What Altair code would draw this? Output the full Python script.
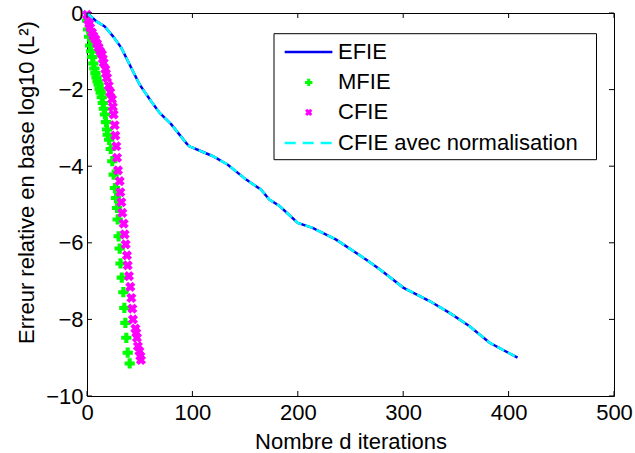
import altair as alt
import pandas as pd

# ---- data ----
efie_x = [0, 9, 16.8, 24.7, 32.6, 43.6, 50, 61, 69, 80, 94, 97, 105, 119.5, 133.6, 151, 165, 173, 182.7,
          200, 214, 236, 265, 278, 300, 325, 344, 363, 382, 408.5]
efie_y = [0, -0.22, -0.35, -0.61, -0.91, -1.52, -1.87, -2.31, -2.61, -2.91, -3.39, -3.48, -3.57, -3.74, -3.96,
          -4.35, -4.61, -4.87, -5.04, -5.48, -5.61, -5.91, -6.44, -6.70, -7.17, -7.52, -7.83, -8.18, -8.61, -9.0]

norm_x = [0, 9, 16.8, 24.7, 32.6, 43.6, 50, 61, 69, 80, 94, 97, 105, 119.5, 133.6, 151, 165, 173, 182.7,
          200, 214, 236, 265, 278, 300, 325, 344, 363, 382, 408.5]
norm_y = [0, -0.22, -0.35, -0.61, -0.91, -1.52, -1.87, -2.31, -2.61, -2.91, -3.39, -3.48, -3.57, -3.74, -3.96,
          -4.35, -4.61, -4.87, -5.04, -5.48, -5.61, -5.91, -6.44, -6.70, -7.17, -7.52, -7.83, -8.18, -8.61, -9.0]

mfie_x = [0, 1, 2, 3, 4, 5, 6, 7, 8, 9, 10, 11, 12, 13, 14, 15, 16,
          17, 18, 19, 19.6, 21, 22.5, 24, 25.3, 26.5, 27.5, 28.5, 29.1, 30, 31, 31.8, 33, 34.5, 35.4,
          36.4, 37.3, 38.6, 40.5]
mfie_y = [-0.2, -0.43, -0.62, -0.85, -1.0, -1.15, -1.32, -1.45, -1.57, -1.68, -1.78, -1.87, -1.98, -2.08,
          -2.2, -2.35, -2.5,
          -2.65, -2.85, -3.04, -3.18, -3.31, -3.55, -3.87, -4.22, -4.57, -4.83, -5.09, -5.39, -5.83, -6.15,
          -6.54, -6.91, -7.29, -7.70, -8.09, -8.48, -8.87, -9.15]

cfie_x = [0, 1, 2, 3, 4.7, 6, 8, 9.5, 11, 12.5, 14.2, 15, 15.8, 17.4, 18, 19, 20.6, 22, 23.7, 24.5, 25.3,
          26.3, 26.9, 27.8, 28.5, 29.4, 31, 31.6, 32.6, 33.5, 34.8, 35.7, 36.7, 37.9, 38.6, 39.8, 41.1,
          42.1, 43, 43.6, 45.9, 46.8, 47.4, 48.3, 49.7, 50.6, 51.2]
cfie_y = [-0.05, -0.18, -0.28, -0.38, -0.51, -0.6, -0.69, -0.8, -0.9, -1.0, -1.08, -1.2, -1.3, -1.47, -1.58,
          -1.69, -1.9, -2.07, -2.25, -2.45, -2.65, -2.93, -3.2, -3.48, -3.78, -4.11, -4.39, -4.68, -4.94,
          -5.22, -5.5, -5.78, -6.04, -6.33, -6.59, -6.87, -7.15, -7.44, -7.72, -8.0, -8.24, -8.35, -8.48,
          -8.7, -8.83, -8.96, -9.06]

x_ticks = [0, 100, 200, 300, 400, 500]
y_ticks = [0, -2, -4, -6, -8, -10]
legend_labels = ["EFIE", "MFIE", "CFIE", "CFIE avec normalisation"]

# ---- styling ----
FONT = "Liberation Sans"
FS = 22
W, H = 527, 383
BLUE, GREEN, MAGENTA, CYAN = "#0000f0", "#00ff00", "#ff00ff", "#00ffff"

xs = alt.Scale(domain=[0, 500], nice=False, zero=False)
ys = alt.Scale(domain=[-10, 0], nice=False, zero=False)

x_axis = alt.Axis(values=x_ticks, title="Nombre d iterations", grid=False, domain=False, ticks=False,
                  labelPadding=6, labelFont=FONT, labelFontSize=FS, labelColor="black",
                  titleFont=FONT, titleFontSize=FS, titleFontWeight="normal", titleColor="black",
                  titleY=52, titleBaseline="alphabetic", labelFlush=False)
y_axis = alt.Axis(values=y_ticks, title="Erreur relative en base log10 (L²)", grid=False, domain=False,
                  ticks=False, labelPadding=4, labelFont=FONT, labelFontSize=FS, labelColor="black",
                  titleFont=FONT, titleFontSize=FS, titleFontWeight="normal", titleColor="black",
                  titleX=-61, titleY=169, titleAlign="center", titleBaseline="middle", titleAngle=270,
                  labelFlush=False)

df_efie = pd.DataFrame({"x": efie_x, "y": efie_y})
df_norm = pd.DataFrame({"x": norm_x, "y": norm_y})
df_mfie = pd.DataFrame({"x": mfie_x, "y": mfie_y})
df_cfie = pd.DataFrame({"x": cfie_x, "y": cfie_y})
df_xt = pd.DataFrame({"t": x_ticks})
df_yt = pd.DataFrame({"t": y_ticks})

efie = alt.Chart(df_efie).mark_line(color=BLUE, strokeWidth=2.5).encode(
    x=alt.X("x:Q", scale=xs, axis=x_axis),
    y=alt.Y("y:Q", scale=ys, axis=y_axis),
)
mfie = alt.Chart(df_mfie).mark_point(shape="cross", filled=True, color=GREEN, opacity=1, size=105,
                                     clip=False).encode(
    x=alt.X("x:Q", scale=xs), y=alt.Y("y:Q", scale=ys))
cfie = alt.Chart(df_cfie).mark_point(shape="cross", angle=45, filled=True, color=MAGENTA, opacity=1,
                                     size=105, clip=False).encode(
    x=alt.X("x:Q", scale=xs), y=alt.Y("y:Q", scale=ys))
norm = alt.Chart(df_norm).mark_line(color=CYAN, strokeWidth=2.5, strokeDash=[8, 4]).encode(
    x=alt.X("x:Q", scale=xs), y=alt.Y("y:Q", scale=ys))

# inward ticks (MATLAB style), on all four sides
tb = alt.Chart(df_xt).mark_rule(color="black", strokeWidth=1).encode(
    x=alt.X("t:Q", scale=xs), y=alt.value(H), y2=alt.value(H - 5))
tt = alt.Chart(df_xt).mark_rule(color="black", strokeWidth=1).encode(
    x=alt.X("t:Q", scale=xs), y=alt.value(0), y2=alt.value(5))
tl = alt.Chart(df_yt).mark_rule(color="black", strokeWidth=1).encode(
    y=alt.Y("t:Q", scale=ys), x=alt.value(0), x2=alt.value(5))
tr = alt.Chart(df_yt).mark_rule(color="black", strokeWidth=1).encode(
    y=alt.Y("t:Q", scale=ys), x=alt.value(W), x2=alt.value(W - 5))

# legend
lx0, lx1, ly0, ly1 = 187, 509.5, 20.7, 146.7
rows = [39, 69.4, 99.4, 130]
sx0, sx1, sc, tx = 197.7, 245.4, 221.7, 251

def one(label):
    return alt.Chart(pd.DataFrame({"label": [label]}))

leg_box = one(legend_labels[0]).mark_rect(fill="white", stroke="black", strokeWidth=1).encode(
    x=alt.value(lx0), x2=alt.value(lx1), y=alt.value(ly0), y2=alt.value(ly1))
leg_efie = one(legend_labels[0]).mark_rule(color=BLUE, strokeWidth=2.5).encode(
    x=alt.value(sx0), x2=alt.value(sx1), y=alt.value(rows[0]))
leg_mfie = one(legend_labels[1]).mark_point(shape="cross", filled=True, color=GREEN, opacity=1,
                                            size=55).encode(x=alt.value(sc), y=alt.value(rows[1]))
leg_cfie = one(legend_labels[2]).mark_point(shape="cross", angle=45, filled=True, color=MAGENTA, opacity=1,
                                            size=55).encode(x=alt.value(sc), y=alt.value(rows[2]))
leg_norm = one(legend_labels[3]).mark_rule(color=CYAN, strokeWidth=2.5, strokeDash=[11, 7]).encode(
    x=alt.value(sx0), x2=alt.value(sx1), y=alt.value(rows[3]))
leg_texts = [one(lab).mark_text(align="left", baseline="middle", font=FONT, fontSize=FS, color="black").encode(
    x=alt.value(tx), y=alt.value(r), text="label:N") for lab, r in zip(legend_labels, rows)]

chart = alt.layer(efie, mfie, cfie, norm, tb, tt, tl, tr,
                  leg_box, leg_efie, leg_mfie, leg_cfie, leg_norm, *leg_texts).properties(
    width=W, height=H,
    padding={"left": 87, "top": 13, "right": 21, "bottom": 57},
    autosize=alt.AutoSizeParams(type="none"),
    background="white",
).configure_view(stroke="black", strokeWidth=1)

chart.save("out.html", embed_options={"renderer": "svg", "actions": False})
